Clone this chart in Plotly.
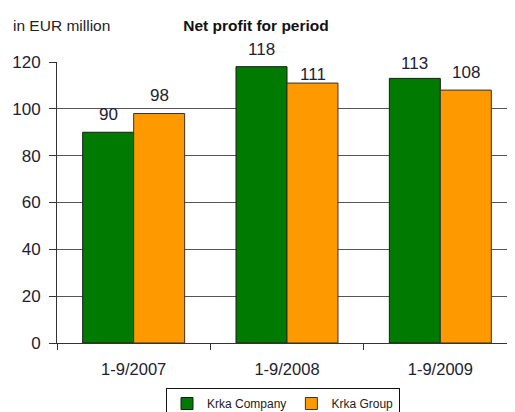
import plotly.graph_objects as go

categories = ["1-9/2007", "1-9/2008", "1-9/2009"]
krka_company = [90, 118, 113]
krka_group = [98, 111, 108]
y_ticks = [0, 20, 40, 60, 80, 100, 120]

FONT = "Liberation Sans, Arial, sans-serif"
TXT = "#1c2233"

# page has an 8px body margin; figure coordinates are page coordinates minus 8
W, H = 507, 404
L, T, B = 49, 54, 69

fig = go.Figure()
fig.add_trace(go.Bar(
    x=categories, y=krka_company, name="Krka Company",
    marker=dict(color="#007a00", line=dict(color="#1a1a1a", width=1)),
))
fig.add_trace(go.Bar(
    x=categories, y=krka_group, name="Krka Group",
    marker=dict(color="#ff9900", line=dict(color="#333333", width=1)),
))

# value labels above bars, offset in pixels
offsets_company = [6, 6, 3]
offsets_group = [7, -3, 6]
for i, c in enumerate(categories):
    fig.add_annotation(x=c, y=krka_company[i], text=str(krka_company[i]),
                       xshift=-25.5, yshift=offsets_company[i], yanchor="bottom",
                       showarrow=False, font=dict(family=FONT, size=17, color=TXT))
    fig.add_annotation(x=c, y=krka_group[i], text=str(krka_group[i]),
                       xshift=25.5, yshift=offsets_group[i], yanchor="bottom",
                       showarrow=False, font=dict(family=FONT, size=17, color=TXT))

fig.add_annotation(xref="paper", yref="paper", x=(11 - 57) / 458, y=1 + (62 - 26) / 281,
                   xanchor="left", yanchor="middle", text="in EUR million",
                   showarrow=False, font=dict(family=FONT, size=15.5, color="#222222"))

fig.update_layout(
    template="none",
    width=W, height=H,
    margin=dict(l=L, r=0, t=T, b=B, pad=0),
    paper_bgcolor="white", plot_bgcolor="white",
    barmode="group", bargap=0.335, bargroupgap=0,
    title=dict(text="<b>Net profit for period</b>", x=(256 - 8) / W, xanchor="center",
               y=1 - (26 - 8) / H, yanchor="middle", automargin=False,
               font=dict(family=FONT, size=15.5, color="#111111")),
    font=dict(family=FONT, color=TXT),
    showlegend=True,
    legend=dict(orientation="h", xref="container", yref="container",
                x=(166 - 8) / W, xanchor="left",
                y=1 - (388 - 8) / H, yanchor="top",
                bordercolor="#111111", borderwidth=1, bgcolor="white",
                font=dict(family=FONT, size=12, color="#222222"),
                itemwidth=30),
    xaxis=dict(type="category", range=[-0.5, 2.487], showline=True, linecolor="#333333",
               linewidth=1, ticks="outside", ticklen=6, tickcolor="#333333",
               tickson="boundaries", showgrid=False, automargin=False,
               ticklabelstandoff=11,
               tickfont=dict(family=FONT, size=16.5, color=TXT)),
    yaxis=dict(range=[0, 120], tickvals=y_ticks, showline=True, linecolor="#333333",
               linewidth=1, ticks="outside", ticklen=7, tickcolor="#333333",
               showgrid=True, gridcolor="#555555", gridwidth=1, zeroline=False,
               automargin=False, ticklabelstandoff=5,
               tickfont=dict(family=FONT, size=17, color=TXT)),
)

fig.write_html("out.html")
